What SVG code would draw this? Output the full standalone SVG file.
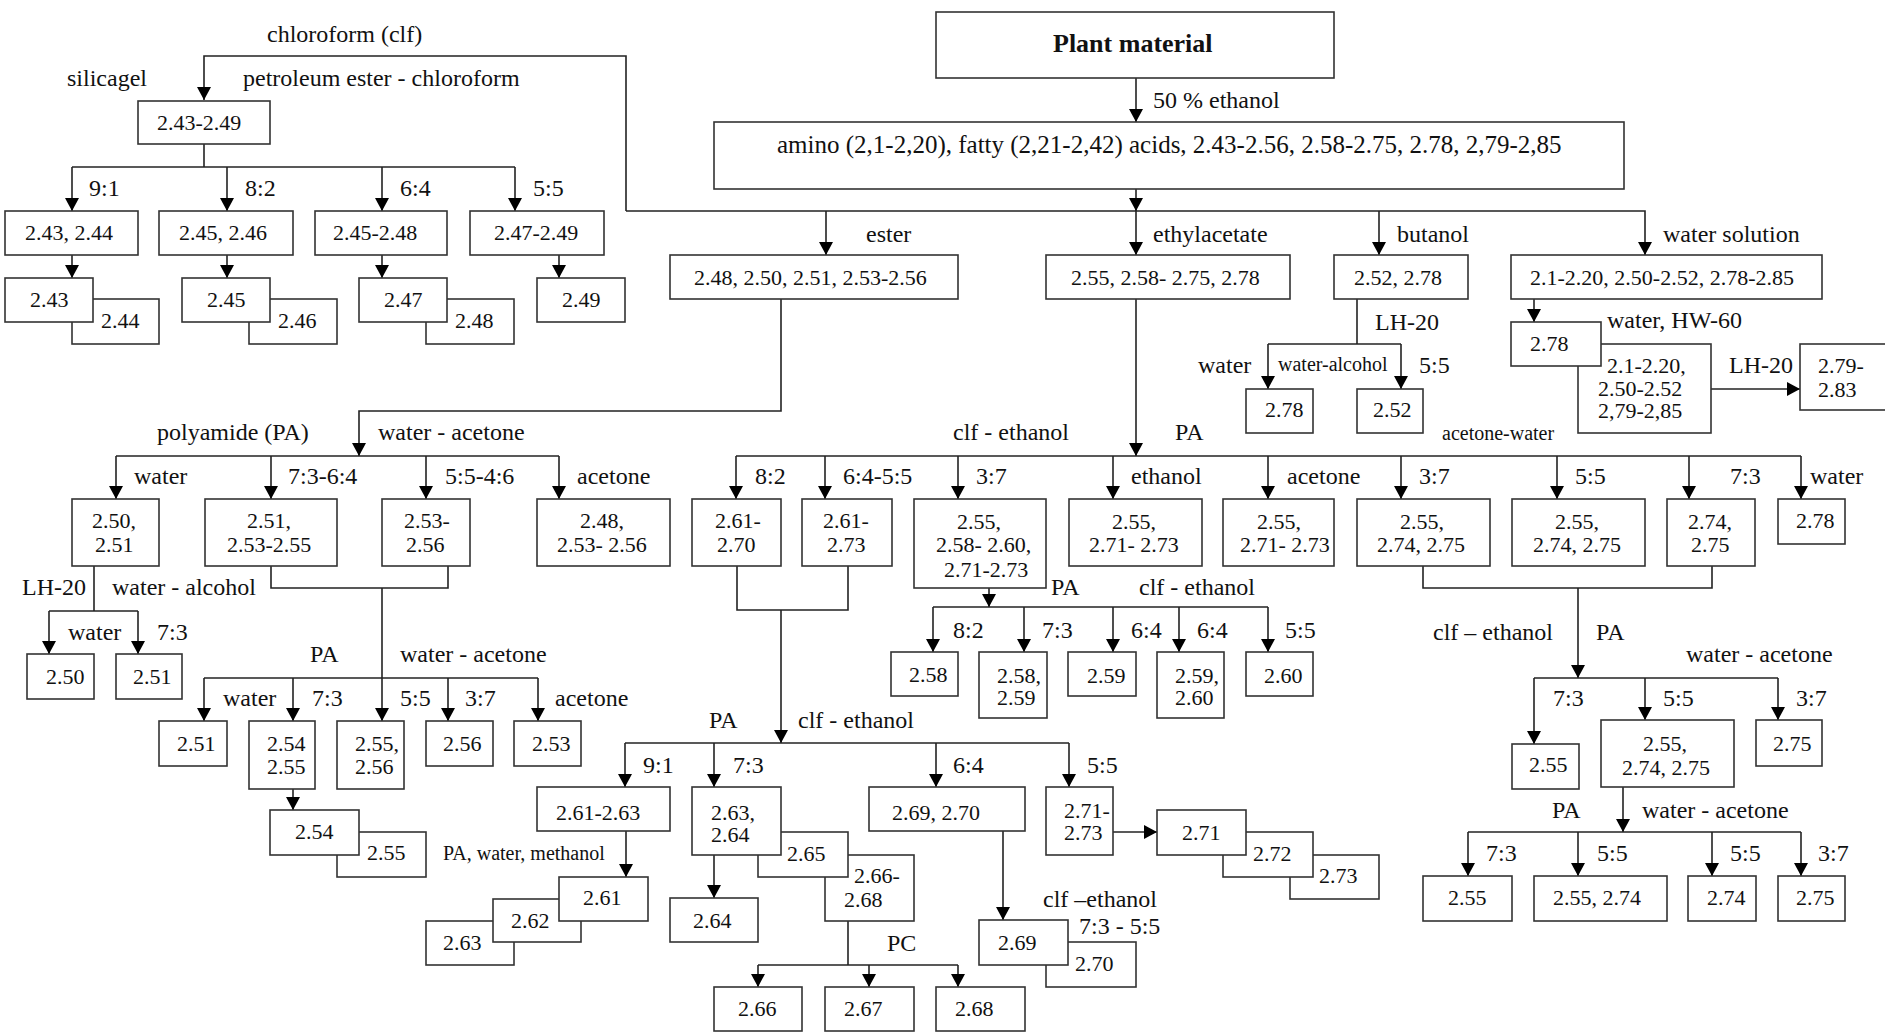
<svg xmlns="http://www.w3.org/2000/svg" width="1885" height="1033" viewBox="0 0 1885 1033">
<style>
text{font-family:"Liberation Serif","Times New Roman",serif;fill:#111}
.num{font-size:22px}
.lb{font-size:24px}
.sm{font-size:20px}
.big{font-size:25px}
.title{font-size:26px;font-weight:bold}
rect{fill:#fff;stroke:#333;stroke-width:1.6}
#connectors path{fill:none;stroke:#222;stroke-width:1.6}
#connectors path.a{marker-end:url(#ah)}
</style>
<defs>
<marker id="ah" markerUnits="userSpaceOnUse" markerWidth="14" markerHeight="14" refX="13" refY="7" orient="auto"><path d="M0,0 L13,7 L0,14 z" fill="#000"/></marker>
</defs>
<rect x="0" y="0" width="1885" height="1033" style="stroke:none;fill:#fff"/>
<g id="connectors">
<path class="a" d="M626,211 V56 H204 V100"/>
<path class="a" d="M626,211 H1645 V255"/>
<path class="a" d="M826,211 V255"/>
<path class="a" d="M1136,211 V255"/>
<path class="a" d="M1379,211 V255"/>
<path class="a" d="M1136,189 V211"/>
<path class="a" d="M1136,78 V122"/>
<path d="M204,144 V167"/>
<path d="M72,167 H515"/>
<path class="a" d="M72,167 V211"/>
<path class="a" d="M227,167 V211"/>
<path class="a" d="M382,167 V211"/>
<path class="a" d="M515,167 V211"/>
<path class="a" d="M72,255 V278"/>
<path class="a" d="M227,255 V278"/>
<path class="a" d="M382,255 V278"/>
<path class="a" d="M559,255 V278"/>
<path class="a" d="M781,299 V411 H359 V456"/>
<path d="M116,456 H559"/>
<path class="a" d="M116,456 V499"/>
<path class="a" d="M271,456 V499"/>
<path class="a" d="M426,456 V499"/>
<path class="a" d="M559,456 V499"/>
<path d="M94,566 V611"/>
<path d="M49,611 H138"/>
<path class="a" d="M49,611 V654"/>
<path class="a" d="M138,611 V654"/>
<path d="M271,566 V588 H448 V566"/>
<path class="a" d="M382,588 V721"/>
<path d="M204,678 H538"/>
<path class="a" d="M204,678 V721"/>
<path class="a" d="M293,678 V721"/>
<path class="a" d="M448,678 V721"/>
<path class="a" d="M538,678 V721"/>
<path class="a" d="M293,789 V810"/>
<path class="a" d="M1136,299 V456"/>
<path d="M736,456 H1801"/>
<path class="a" d="M736,456 V499"/>
<path class="a" d="M825,456 V499"/>
<path class="a" d="M958,456 V499"/>
<path class="a" d="M1113,456 V499"/>
<path class="a" d="M1268,456 V499"/>
<path class="a" d="M1401,456 V499"/>
<path class="a" d="M1557,456 V499"/>
<path class="a" d="M1689,456 V499"/>
<path class="a" d="M1801,456 V499"/>
<path d="M1357,299 V344"/>
<path d="M1268,344 H1401"/>
<path class="a" d="M1268,344 V389"/>
<path class="a" d="M1401,344 V389"/>
<path class="a" d="M1534,299 V322"/>
<path class="a" d="M1711,389 H1800"/>
<path d="M737,566 V610 H848 V566"/>
<path class="a" d="M781,610 V743"/>
<path d="M625,743 H1069"/>
<path class="a" d="M625,743 V787"/>
<path class="a" d="M714,743 V787"/>
<path class="a" d="M936,743 V787"/>
<path class="a" d="M1069,743 V787"/>
<path class="a" d="M989,588 V607"/>
<path d="M933,607 H1268"/>
<path class="a" d="M933,607 V652"/>
<path class="a" d="M1024,607 V652"/>
<path class="a" d="M1113,607 V652"/>
<path class="a" d="M1179,607 V652"/>
<path class="a" d="M1268,607 V652"/>
<path class="a" d="M626,831 V877"/>
<path class="a" d="M714,855 V898"/>
<path d="M848,921 V965"/>
<path d="M758,965 H958"/>
<path class="a" d="M758,965 V987"/>
<path class="a" d="M869,965 V987"/>
<path class="a" d="M958,965 V987"/>
<path class="a" d="M1003,831 V920"/>
<path class="a" d="M1113,832 H1157"/>
<path d="M1423,566 V588 H1712 V566"/>
<path class="a" d="M1578,588 V678"/>
<path d="M1534,678 H1778"/>
<path class="a" d="M1534,678 V744"/>
<path class="a" d="M1645,678 V720"/>
<path class="a" d="M1778,678 V720"/>
<path class="a" d="M1623,787 V832"/>
<path d="M1468,832 H1801"/>
<path class="a" d="M1468,832 V876"/>
<path class="a" d="M1578,832 V876"/>
<path class="a" d="M1712,832 V876"/>
<path class="a" d="M1801,832 V876"/>
</g>
<g id="labels">
<text class="lb" x="267" y="42">chloroform (clf)</text>
<text class="lb" x="67" y="86">silicagel</text>
<text class="lb" x="243" y="86">petroleum ester - chloroform</text>
<text class="lb" x="89" y="196">9:1</text>
<text class="lb" x="245" y="196">8:2</text>
<text class="lb" x="400" y="196">6:4</text>
<text class="lb" x="533" y="196">5:5</text>
<text class="lb" x="1153" y="108">50 % ethanol</text>
<text class="lb" x="866" y="242">ester</text>
<text class="lb" x="1153" y="242">ethylacetate</text>
<text class="lb" x="1397" y="242">butanol</text>
<text class="lb" x="1663" y="242">water solution</text>
<text class="lb" x="1375" y="330">LH-20</text>
<text class="lb" x="1198" y="373">water</text>
<text class="sm" x="1278" y="371">water-alcohol</text>
<text class="lb" x="1419" y="373">5:5</text>
<text class="lb" x="1607" y="328">water, HW-60</text>
<text class="lb" x="1729" y="373">LH-20</text>
<text class="lb" x="157" y="440">polyamide (PA)</text>
<text class="lb" x="378" y="440">water - acetone</text>
<text class="lb" x="953" y="440">clf - ethanol</text>
<text class="lb" x="1175" y="440">PA</text>
<text class="sm" x="1442" y="440">acetone-water</text>
<text class="lb" x="134" y="484">water</text>
<text class="lb" x="288" y="484">7:3-6:4</text>
<text class="lb" x="445" y="484">5:5-4:6</text>
<text class="lb" x="577" y="484">acetone</text>
<text class="lb" x="755" y="484">8:2</text>
<text class="lb" x="843" y="484">6:4-5:5</text>
<text class="lb" x="976" y="484">3:7</text>
<text class="lb" x="1131" y="484">ethanol</text>
<text class="lb" x="1287" y="484">acetone</text>
<text class="lb" x="1419" y="484">3:7</text>
<text class="lb" x="1575" y="484">5:5</text>
<text class="lb" x="1730" y="484">7:3</text>
<text class="lb" x="1810" y="484">water</text>
<text class="lb" x="22" y="595">LH-20</text>
<text class="lb" x="112" y="595">water - alcohol</text>
<text class="lb" x="1051" y="595">PA</text>
<text class="lb" x="1139" y="595">clf - ethanol</text>
<text class="lb" x="68" y="640">water</text>
<text class="lb" x="157" y="640">7:3</text>
<text class="lb" x="953" y="638">8:2</text>
<text class="lb" x="1042" y="638">7:3</text>
<text class="lb" x="1131" y="638">6:4</text>
<text class="lb" x="1197" y="638">6:4</text>
<text class="lb" x="1285" y="638">5:5</text>
<text class="lb" x="1433" y="640">clf – ethanol</text>
<text class="lb" x="1596" y="640">PA</text>
<text class="lb" x="310" y="662">PA</text>
<text class="lb" x="400" y="662">water - acetone</text>
<text class="lb" x="1686" y="662">water - acetone</text>
<text class="lb" x="223" y="706">water</text>
<text class="lb" x="312" y="706">7:3</text>
<text class="lb" x="400" y="706">5:5</text>
<text class="lb" x="465" y="706">3:7</text>
<text class="lb" x="555" y="706">acetone</text>
<text class="lb" x="1553" y="706">7:3</text>
<text class="lb" x="1663" y="706">5:5</text>
<text class="lb" x="1796" y="706">3:7</text>
<text class="lb" x="709" y="728">PA</text>
<text class="lb" x="798" y="728">clf - ethanol</text>
<text class="lb" x="643" y="773">9:1</text>
<text class="lb" x="733" y="773">7:3</text>
<text class="lb" x="953" y="773">6:4</text>
<text class="lb" x="1087" y="773">5:5</text>
<text class="lb" x="1552" y="818">PA</text>
<text class="lb" x="1642" y="818">water - acetone</text>
<text class="sm" x="443" y="860">PA, water, methanol</text>
<text class="lb" x="1486" y="861">7:3</text>
<text class="lb" x="1597" y="861">5:5</text>
<text class="lb" x="1730" y="861">5:5</text>
<text class="lb" x="1818" y="861">3:7</text>
<text class="lb" x="1043" y="907">clf –ethanol</text>
<text class="lb" x="1079" y="934">7:3 - 5:5</text>
<text class="lb" x="887" y="951">PC</text>
</g>
<g id="n-plant"><rect x="936" y="12" width="398" height="66"/><text class="title" x="1053" y="52">Plant material</text></g>
<g id="n-extract"><rect x="714" y="122" width="910" height="67"/><text class="big" x="777" y="153">amino (2,1-2,20), fatty (2,21-2,42) acids, 2.43-2.56, 2.58-2.75, 2.78, 2,79-2,85</text></g>
<g id="n-2-43-2-49"><rect x="138" y="101" width="132" height="43"/><text class="num" x="157" y="130">2.43-2.49</text></g>
<g id="n-91"><rect x="5" y="211" width="133" height="44"/><text class="num" x="25" y="240">2.43, 2.44</text></g>
<g id="n-82"><rect x="159" y="211" width="134" height="44"/><text class="num" x="179" y="240">2.45, 2.46</text></g>
<g id="n-64"><rect x="315" y="211" width="132" height="44"/><text class="num" x="333" y="240">2.45-2.48</text></g>
<g id="n-55"><rect x="470" y="211" width="134" height="44"/><text class="num" x="494" y="240">2.47-2.49</text></g>
<g id="n-2-44"><rect x="72" y="299" width="87" height="45"/><text class="num" x="101" y="328">2.44</text></g>
<g id="n-2-43"><rect x="5" y="278" width="88" height="44"/><text class="num" x="30" y="307">2.43</text></g>
<g id="n-2-46"><rect x="249" y="299" width="88" height="45"/><text class="num" x="278" y="328">2.46</text></g>
<g id="n-2-45"><rect x="182" y="278" width="88" height="44"/><text class="num" x="207" y="307">2.45</text></g>
<g id="n-2-48"><rect x="426" y="299" width="88" height="45"/><text class="num" x="455" y="328">2.48</text></g>
<g id="n-2-47"><rect x="359" y="278" width="88" height="44"/><text class="num" x="384" y="307">2.47</text></g>
<g id="n-2-49"><rect x="537" y="278" width="88" height="44"/><text class="num" x="562" y="307">2.49</text></g>
<g id="n-ester"><rect x="670" y="255" width="288" height="44"/><text class="num" x="694" y="285">2.48, 2.50, 2.51, 2.53-2.56</text></g>
<g id="n-ethyl"><rect x="1046" y="255" width="244" height="44"/><text class="num" x="1071" y="285">2.55, 2.58- 2.75, 2.78</text></g>
<g id="n-butanol"><rect x="1334" y="255" width="134" height="44"/><text class="num" x="1354" y="285">2.52, 2.78</text></g>
<g id="n-watersol"><rect x="1511" y="255" width="311" height="44"/><text class="num" x="1530" y="285">2.1-2.20, 2.50-2.52, 2.78-2.85</text></g>
<g id="n-bu-2-78"><rect x="1246" y="389" width="67" height="44"/><text class="num" x="1265" y="417">2.78</text></g>
<g id="n-bu-2-52"><rect x="1357" y="389" width="66" height="44"/><text class="num" x="1373" y="417">2.52</text></g>
<g id="n-ws-rest"><rect x="1578" y="344" width="133" height="89"/><text class="num"><tspan x="1607" y="373">2.1-2.20,</tspan><tspan x="1598" y="396">2.50-2.52</tspan><tspan x="1598" y="418">2,79-2,85</tspan></text></g>
<g id="n-ws-2-78"><rect x="1511" y="322" width="90" height="44"/><text class="num" x="1530" y="351">2.78</text></g>
<g id="n-2-79-2-83"><rect x="1800" y="344" width="92" height="66"/><text class="num"><tspan x="1818" y="373">2.79-</tspan><tspan x="1818" y="397">2.83</tspan></text></g>
<g id="n-pa-water"><rect x="72" y="499" width="87" height="67"/><text class="num"><tspan x="92" y="528">2.50,</tspan><tspan x="95" y="552">2.51</tspan></text></g>
<g id="n-pa-73"><rect x="205" y="499" width="132" height="67"/><text class="num"><tspan x="247" y="528">2.51,</tspan><tspan x="227" y="552">2.53-2.55</tspan></text></g>
<g id="n-pa-55"><rect x="382" y="499" width="88" height="67"/><text class="num"><tspan x="404" y="528">2.53-</tspan><tspan x="406" y="552">2.56</tspan></text></g>
<g id="n-pa-acetone"><rect x="537" y="499" width="133" height="67"/><text class="num"><tspan x="580" y="528">2.48,</tspan><tspan x="557" y="552">2.53- 2.56</tspan></text></g>
<g id="n-lh-2-50"><rect x="27" y="654" width="67" height="45"/><text class="num" x="46" y="684">2.50</text></g>
<g id="n-lh-2-51"><rect x="116" y="654" width="66" height="45"/><text class="num" x="133" y="684">2.51</text></g>
<g id="n-wa-2-51"><rect x="159" y="721" width="68" height="45"/><text class="num" x="177" y="751">2.51</text></g>
<g id="n-wa-2-54-2-55"><rect x="249" y="721" width="66" height="68"/><text class="num"><tspan x="267" y="751">2.54</tspan><tspan x="267" y="774">2.55</tspan></text></g>
<g id="n-wa-2-55-2-56"><rect x="337" y="721" width="67" height="68"/><text class="num"><tspan x="355" y="751">2.55,</tspan><tspan x="355" y="774">2.56</tspan></text></g>
<g id="n-wa-2-56"><rect x="426" y="721" width="67" height="45"/><text class="num" x="443" y="751">2.56</text></g>
<g id="n-wa-2-53"><rect x="514" y="721" width="67" height="45"/><text class="num" x="532" y="751">2.53</text></g>
<g id="n-b-2-55"><rect x="337" y="832" width="89" height="45"/><text class="num" x="367" y="860">2.55</text></g>
<g id="n-b-2-54"><rect x="270" y="810" width="89" height="45"/><text class="num" x="295" y="839">2.54</text></g>
<g id="n-ea-82"><rect x="692" y="499" width="89" height="67"/><text class="num"><tspan x="715" y="528">2.61-</tspan><tspan x="717" y="552">2.70</tspan></text></g>
<g id="n-ea-64"><rect x="802" y="499" width="90" height="67"/><text class="num"><tspan x="823" y="528">2.61-</tspan><tspan x="827" y="552">2.73</tspan></text></g>
<g id="n-ea-37"><rect x="914" y="499" width="132" height="89"/><text class="num"><tspan x="957" y="529">2.55,</tspan><tspan x="936" y="552">2.58- 2.60,</tspan><tspan x="944" y="577">2.71-2.73</tspan></text></g>
<g id="n-ea-ethanol"><rect x="1069" y="499" width="133" height="67"/><text class="num"><tspan x="1112" y="529">2.55,</tspan><tspan x="1089" y="552">2.71- 2.73</tspan></text></g>
<g id="n-ea-acetone"><rect x="1223" y="499" width="111" height="67"/><text class="num"><tspan x="1257" y="529">2.55,</tspan><tspan x="1240" y="552">2.71- 2.73</tspan></text></g>
<g id="n-aw-37"><rect x="1357" y="499" width="133" height="67"/><text class="num"><tspan x="1400" y="529">2.55,</tspan><tspan x="1377" y="552">2.74, 2.75</tspan></text></g>
<g id="n-aw-55"><rect x="1512" y="499" width="133" height="67"/><text class="num"><tspan x="1555" y="529">2.55,</tspan><tspan x="1533" y="552">2.74, 2.75</tspan></text></g>
<g id="n-aw-73"><rect x="1667" y="499" width="88" height="67"/><text class="num"><tspan x="1688" y="529">2.74,</tspan><tspan x="1691" y="552">2.75</tspan></text></g>
<g id="n-aw-water"><rect x="1778" y="499" width="67" height="45"/><text class="num" x="1796" y="528">2.78</text></g>
<g id="n-2-58"><rect x="891" y="652" width="67" height="44"/><text class="num" x="909" y="682">2.58</text></g>
<g id="n-2-58-2-59"><rect x="979" y="652" width="68" height="66"/><text class="num"><tspan x="997" y="683">2.58,</tspan><tspan x="997" y="705">2.59</tspan></text></g>
<g id="n-2-59"><rect x="1068" y="652" width="68" height="44"/><text class="num" x="1087" y="683">2.59</text></g>
<g id="n-2-59-2-60"><rect x="1157" y="652" width="67" height="66"/><text class="num"><tspan x="1175" y="683">2.59,</tspan><tspan x="1175" y="705">2.60</tspan></text></g>
<g id="n-2-60"><rect x="1246" y="652" width="67" height="44"/><text class="num" x="1264" y="683">2.60</text></g>
<g id="n-2-61-2-63"><rect x="537" y="787" width="133" height="44"/><text class="num" x="556" y="820">2.61-2.63</text></g>
<g id="n-2-63"><rect x="426" y="921" width="88" height="44"/><text class="num" x="443" y="950">2.63</text></g>
<g id="n-2-62"><rect x="493" y="899" width="88" height="43"/><text class="num" x="511" y="928">2.62</text></g>
<g id="n-2-61"><rect x="559" y="877" width="89" height="44"/><text class="num" x="583" y="905">2.61</text></g>
<g id="n-2-66-2-68"><rect x="825" y="855" width="89" height="66"/><text class="num"><tspan x="854" y="883">2.66-</tspan><tspan x="844" y="907">2.68</tspan></text></g>
<g id="n-2-65"><rect x="758" y="832" width="90" height="45"/><text class="num" x="787" y="861">2.65</text></g>
<g id="n-2-63-2-64"><rect x="692" y="787" width="89" height="68"/><text class="num"><tspan x="711" y="820">2.63,</tspan><tspan x="711" y="842">2.64</tspan></text></g>
<g id="n-2-64"><rect x="670" y="898" width="88" height="44"/><text class="num" x="693" y="928">2.64</text></g>
<g id="n-2-66"><rect x="714" y="987" width="88" height="44"/><text class="num" x="738" y="1016">2.66</text></g>
<g id="n-2-67"><rect x="825" y="987" width="89" height="44"/><text class="num" x="844" y="1016">2.67</text></g>
<g id="n-2-68"><rect x="936" y="987" width="89" height="44"/><text class="num" x="955" y="1016">2.68</text></g>
<g id="n-2-69-2-70"><rect x="869" y="787" width="156" height="44"/><text class="num" x="892" y="820">2.69, 2.70</text></g>
<g id="n-2-70"><rect x="1046" y="942" width="90" height="45"/><text class="num" x="1075" y="971">2.70</text></g>
<g id="n-2-69"><rect x="979" y="920" width="89" height="45"/><text class="num" x="998" y="950">2.69</text></g>
<g id="n-2-71-2-73"><rect x="1046" y="787" width="67" height="68"/><text class="num"><tspan x="1064" y="818">2.71-</tspan><tspan x="1064" y="840">2.73</tspan></text></g>
<g id="n-2-73"><rect x="1290" y="855" width="89" height="44"/><text class="num" x="1319" y="883">2.73</text></g>
<g id="n-2-72"><rect x="1223" y="832" width="90" height="45"/><text class="num" x="1253" y="861">2.72</text></g>
<g id="n-2-71"><rect x="1157" y="810" width="89" height="45"/><text class="num" x="1182" y="840">2.71</text></g>
<g id="n-r-2-55"><rect x="1512" y="744" width="67" height="45"/><text class="num" x="1529" y="772">2.55</text></g>
<g id="n-r-2-55-2-74-2-75"><rect x="1601" y="720" width="133" height="67"/><text class="num"><tspan x="1643" y="751">2.55,</tspan><tspan x="1622" y="775">2.74, 2.75</tspan></text></g>
<g id="n-r-2-75"><rect x="1756" y="720" width="66" height="46"/><text class="num" x="1773" y="751">2.75</text></g>
<g id="n-f-2-55"><rect x="1423" y="876" width="89" height="45"/><text class="num" x="1448" y="905">2.55</text></g>
<g id="n-f-2-55-2-74"><rect x="1534" y="876" width="133" height="45"/><text class="num" x="1553" y="905">2.55, 2.74</text></g>
<g id="n-f-2-74"><rect x="1688" y="876" width="68" height="45"/><text class="num" x="1707" y="905">2.74</text></g>
<g id="n-f-2-75"><rect x="1778" y="876" width="67" height="45"/><text class="num" x="1796" y="905">2.75</text></g>
</svg>
